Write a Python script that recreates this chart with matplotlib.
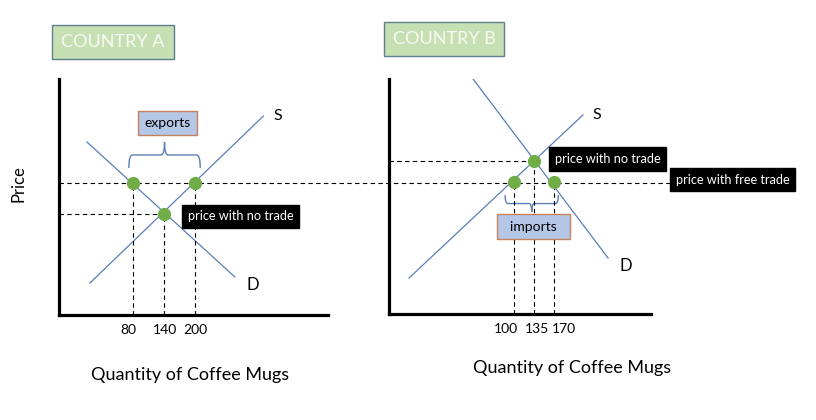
import numpy as np
import matplotlib.pyplot as plt
import matplotlib.transforms as mtransforms
from matplotlib.path import Path
from matplotlib.patches import PathPatch
from matplotlib.lines import Line2D

plt.rcParams['font.family'] = ['Lato', 'DejaVu Sans']

# quantities shown on the two x axes
qA_ticks = [80, 140, 200]
qB_ticks = [100, 135, 170]

# prices are not labelled, estimated on a 0-10 scale
p_world = 5.6   # price with free trade
p_A = 4.3       # country A, no trade
p_B = 6.5       # country B, no trade

# supply / demand lines (end points, quantity and price)
A_demand_q = [-9, 277]
A_demand_p = [7.33, 1.61]
A_supply_q = [-3, 332]
A_supply_p = [1.36, 8.43]
B_demand_q = [29, 265]
B_demand_p = [10.0, 2.38]
B_supply_q = [-83, 221]
B_supply_p = [1.53, 8.47]

# marked points
A_pts_q = [80, 200, 140]
A_pts_p = [p_world, p_world, p_A]
B_pts_q = [100, 170, 135]
B_pts_p = [p_world, p_world, p_B]

LINE = '#5b7db8'
DOT = '#70ad47'
DASH = (0, (4, 3))


def brace(ax, q0, q1, base, tip):
    # curly brace from q0 to q1, ends at base, point at tip
    mid = (q0 + q1) / 2
    half = (base + tip) / 2
    d = (q1 - q0) * 0.05
    verts = [(q0, base), (q0, half), (q0 + d, half),
             (mid - d, half), (mid, half), (mid, tip),
             (mid, half), (mid + d, half),
             (q1 - d, half), (q1, half), (q1, base)]
    codes = [Path.MOVETO, Path.CURVE3, Path.CURVE3,
             Path.LINETO, Path.CURVE3, Path.CURVE3,
             Path.CURVE3, Path.CURVE3,
             Path.LINETO, Path.CURVE3, Path.CURVE3]
    ax.add_patch(PathPatch(Path(verts, codes), fill=False, ec=LINE, lw=1))


def setup(ax, xlim, ticks, shifts):
    ax.set_xlim(xlim)
    ax.set_ylim(0, 10)
    for s in ['top', 'right']:
        ax.spines[s].set_visible(False)
    for s in ['left', 'bottom']:
        ax.spines[s].set_linewidth(2.3)
    ax.set_yticks([])
    ax.set_xticks(ticks)
    ax.set_xticklabels([str(t) for t in ticks])
    ax.tick_params(axis='x', length=0, pad=6.5, labelsize=10)
    ax.set_facecolor('none')
    # hand-drawn labels sit a little off the dashed lines
    for lab, dx in zip(ax.get_xticklabels(), shifts):
        off = mtransforms.ScaledTranslation(dx / 100, 0, fig.dpi_scale_trans)
        lab.set_transform(lab.get_transform() + off)


fig = plt.figure(figsize=(8.16, 4.2), dpi=100)
axA = fig.add_axes([0.0723, 0.25, 0.3297, 0.5619])
axB = fig.add_axes([0.4767, 0.2524, 0.3211, 0.5595])
setup(axA, (-63, 457), qA_ticks, [-5, 1, 0])
setup(axB, (-118, 340), qB_ticks, [-8, 3, 10])

# free trade price line, runs across both panels
y_fig = fig.transFigure.inverted().transform(axA.transData.transform((0, p_world)))[1]
fig.add_artist(Line2D([0.0723, 0.85], [y_fig, y_fig], color='black', lw=0.8, ls=DASH, zorder=-1))

panels = [
    (axA, A_demand_q, A_demand_p, A_supply_q, A_supply_p, A_pts_q, A_pts_p, 140, p_A),
    (axB, B_demand_q, B_demand_p, B_supply_q, B_supply_p, B_pts_q, B_pts_p, 135, p_B),
]
for ax, dq, dp, sq, sp, pq, pp, q0, p0 in panels:
    ax.plot(dq, dp, color=LINE, lw=0.9)
    ax.plot(sq, sp, color=LINE, lw=0.9)
    ax.plot([ax.get_xlim()[0], q0], [p0, p0], color='black', lw=0.8, ls=DASH)
    for q, p in zip(pq, pp):
        ax.plot([q, q], [0, p], color='black', lw=0.8, ls=DASH)
    ax.plot(pq, pp, 'o', color=DOT, ms=8.5, zorder=5)
    ax.annotate('S', xy=(sq[1], sp[1]), xytext=(7, 0), textcoords='offset points',
                fontsize=11.5, ha='left', va='center')
    ax.annotate('D', xy=(dq[1], dp[1]), xytext=(8, -6), textcoords='offset points',
                fontsize=12, ha='left', va='center')

black = dict(boxstyle='square,pad=0.45', fc='black', ec='black')
axA.annotate('price with no trade', xy=(140, p_A), xytext=(17, -2), textcoords='offset points',
             color='white', fontsize=9.2, ha='left', va='center', bbox=black)
axB.annotate('price with no trade', xy=(135, p_B), xytext=(15, 1.5), textcoords='offset points',
             color='white', fontsize=9.2, ha='left', va='center', bbox=black)
axB.annotate('price with free trade', xy=(170, p_world), xytext=(88, 2), textcoords='offset points',
             color='white', fontsize=9.2, ha='left', va='center', bbox=black, zorder=6)

# exports / imports
blue = dict(boxstyle='square,pad=0.45', fc='#b4c7e7', ec='#c8825c', lw=1)
brace(axA, 72, 210, p_world + 0.63, p_world + 1.73)
axA.text(146, 8.14, 'exports', fontsize=10, ha='center', va='center', bbox=blue)
brace(axB, 85, 178, p_world - 0.54, p_world - 1.26)
axB.text(135, 3.72, '  imports  ', fontsize=10, ha='center', va='center', bbox=blue)

# titles
green = dict(boxstyle='square,pad=0.5', fc='#c6e0b4', ec='#5f7f8f', lw=1)
fig.text(113 / 816, 1 - 42 / 420, 'COUNTRY A', fontsize=13, color='#f7faf3',
         ha='center', va='center', bbox=green)
fig.text(444 / 816, 1 - 39 / 420, 'COUNTRY B', fontsize=13, color='#f7faf3',
         ha='center', va='center', bbox=green)

axA.set_xlabel('Quantity of Coffee Mugs', fontsize=13, va='center')
axA.xaxis.set_label_coords(0.487, -0.254)
axB.set_xlabel('Quantity of Coffee Mugs', fontsize=13, va='center')
axB.xaxis.set_label_coords(0.70, -0.23)
axA.set_ylabel('Price', fontsize=12, va='center')
axA.yaxis.set_label_coords(-0.152, 0.555)

fig.savefig('out.png', dpi=100)
